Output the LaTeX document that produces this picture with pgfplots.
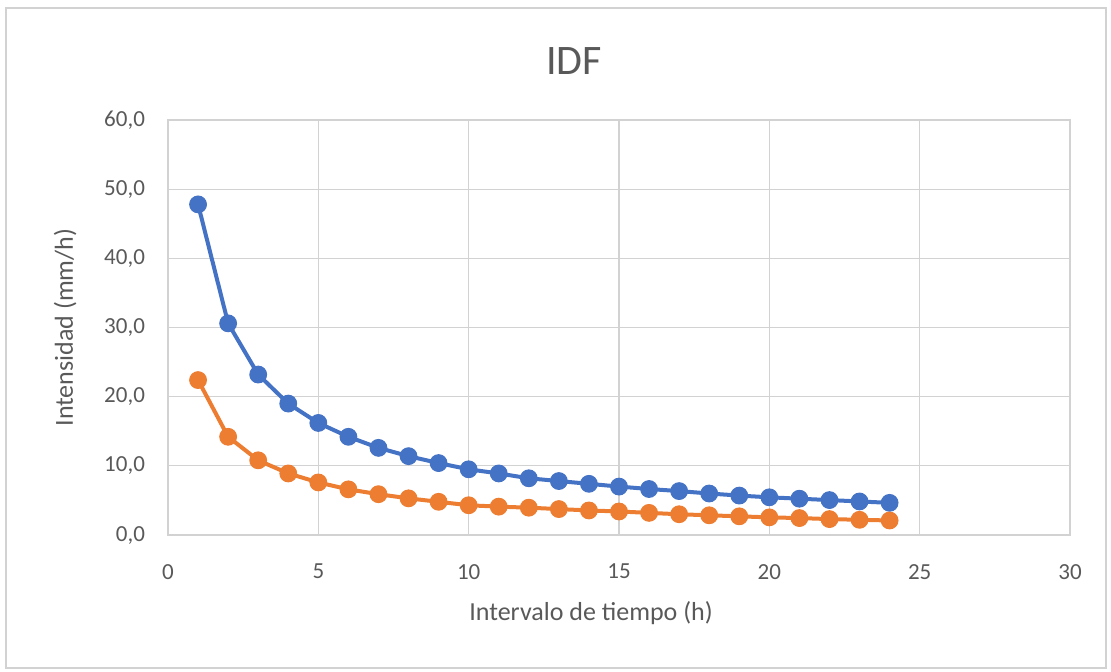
\documentclass[border=0pt]{standalone}
\usepackage{pgfplots}
\pgfplotsset{compat=1.18}
\usepackage{fontspec}
\setmainfont{Carlito}
\definecolor{xlBlue}{RGB}{68,114,196}
\definecolor{xlOrange}{RGB}{237,125,49}
\definecolor{xlText}{RGB}{89,89,89}
\definecolor{xlGrid}{RGB}{210,210,210}
\begin{document}
\begin{tikzpicture}
% chart frame: 1111x671 px at 0.5pt per px
\path[use as bounding box] (0,0) rectangle (555.5pt,335.5pt);
\draw[xlGrid, line width=0.6pt] (3pt,1.5pt) rectangle (553pt,331.5pt);
\node[text=xlText, font=\fontsize{21}{25}\selectfont] at (287pt,305pt) {IDF};
\begin{axis}[
    at={(84pt,68pt)}, anchor=south west,
    scale only axis,
    width=451pt, height=207.5pt,
    xmin=0, xmax=30, ymin=0, ymax=60,
    xtick={0,5,...,30}, ytick={0,10,...,60},
    grid=major,
    major grid style={xlGrid, line width=0.6pt},
    axis line style={xlGrid, line width=0.6pt},
    tick style={draw=none},
    /pgf/number format/assume math mode=true,
    ticklabel style={text=xlText, font=\fontsize{11.5}{13}\selectfont},
    yticklabel={\pgfmathprintnumber[fixed, fixed zerofill, precision=1, use comma]{\tick}},
    xticklabel style={yshift=-11pt},
    yticklabel style={xshift=-8pt},
    xlabel={Intervalo de tiempo (h)},
    ylabel={Intensidad (mm/h)},
    label style={text=xlText, font=\fontsize{13}{15}\selectfont},
    xlabel style={at={(axis description cs:0.469,-0.188)}, anchor=center},
    ylabel style={at={(axis description cs:-0.114,0.5)}, anchor=center},
]
\addplot[xlBlue, line width=2pt, mark=*, mark size=4.2pt, mark options={fill=xlBlue, draw=xlBlue, line width=0.5pt}] coordinates {
(1,47.8) (2,30.6) (3,23.2) (4,19.0) (5,16.2) (6,14.2) (7,12.6) (8,11.4)
(9,10.4) (10,9.5) (11,8.9) (12,8.2) (13,7.8) (14,7.4) (15,7.0) (16,6.65)
(17,6.35) (18,6.0) (19,5.7) (20,5.45) (21,5.25) (22,5.05) (23,4.85) (24,4.65)
};
\addplot[xlOrange, line width=2pt, mark=*, mark size=4.2pt, mark options={fill=xlOrange, draw=xlOrange, line width=0.5pt}] coordinates {
(1,22.4) (2,14.2) (3,10.8) (4,8.9) (5,7.6) (6,6.6) (7,5.9) (8,5.3)
(9,4.8) (10,4.3) (11,4.1) (12,3.95) (13,3.75) (14,3.55) (15,3.4) (16,3.2)
(17,3.0) (18,2.85) (19,2.7) (20,2.55) (21,2.45) (22,2.3) (23,2.2) (24,2.1)
};
\end{axis}
\end{tikzpicture}
\end{document}
